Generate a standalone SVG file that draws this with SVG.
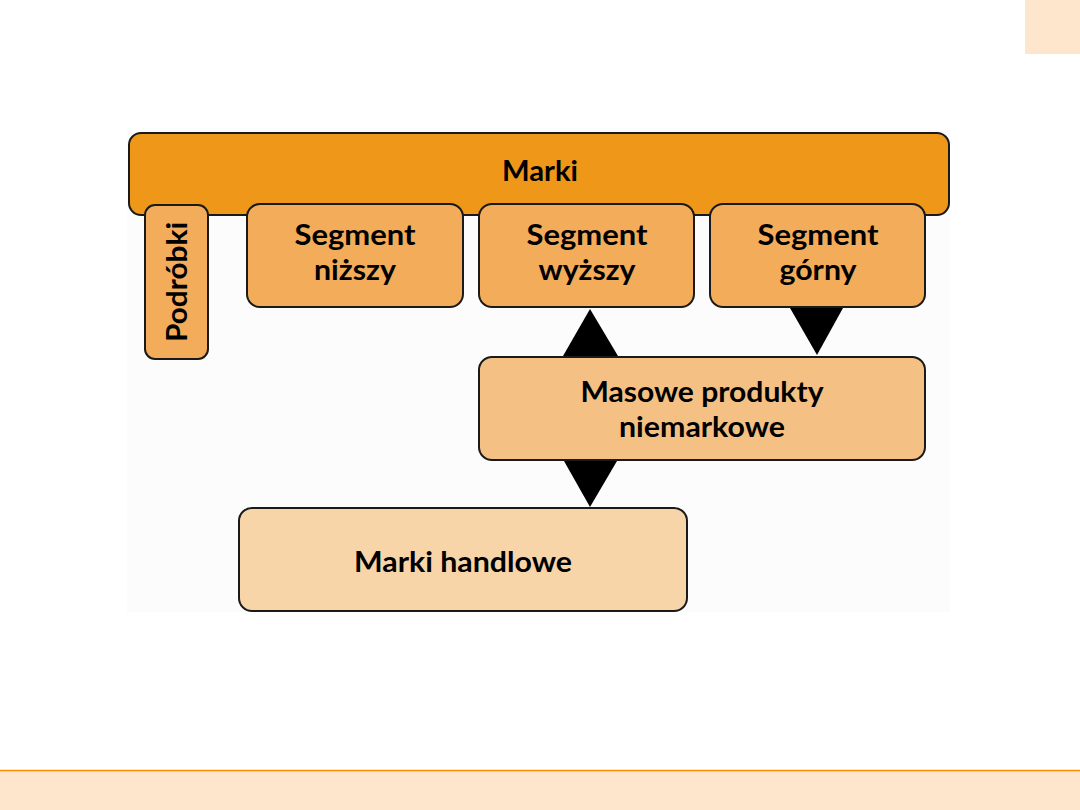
<svg xmlns="http://www.w3.org/2000/svg" width="1080" height="810" viewBox="0 0 1080 810">
<style>
.box{stroke:#1a1a1a;stroke-width:2}
.t{font-family:Lato,"Open Sans","Liberation Sans",sans-serif;font-weight:700;font-size:29px;fill:#000;text-anchor:middle}
.tri{fill:#000}
</style>
<rect width="1080" height="810" fill="#fff"/>
<rect x="1025" y="0" width="55" height="54" fill="#fee6cd"/>
<rect x="0" y="770" width="1080" height="40" fill="#fee6cd"/>
<line x1="0" y1="770.5" x2="1080" y2="770.5" stroke="#ff8c00" stroke-width="1.5"/>
<rect x="127" y="130" width="823" height="482" fill="#fcfcfc"/>
<g id="marki">
<rect class="box" x="129" y="133" width="820" height="82" rx="12" fill="#ef9718"/>
<text class="t" x="540" y="181" textLength="76" lengthAdjust="spacingAndGlyphs">Marki</text>
</g>
<g id="podrobki">
<rect class="box" x="145" y="205" width="63" height="154" rx="10" fill="#f2ac5a"/>
<text class="t" transform="translate(187,282) rotate(-90)" x="0" y="0" textLength="120" lengthAdjust="spacingAndGlyphs">Podróbki</text>
</g>
<g id="seg-nizszy">
<rect class="box" x="247" y="204" width="216" height="103" rx="13" fill="#f2ac5a"/>
<text class="t" x="355" y="245" textLength="121" lengthAdjust="spacingAndGlyphs">Segment</text>
<text class="t" x="355" y="280" textLength="82" lengthAdjust="spacingAndGlyphs">niższy</text>
</g>
<g id="seg-wyzszy">
<rect class="box" x="479" y="204" width="215" height="103" rx="13" fill="#f2ac5a"/>
<text class="t" x="587" y="245" textLength="121" lengthAdjust="spacingAndGlyphs">Segment</text>
<text class="t" x="587" y="280" textLength="97" lengthAdjust="spacingAndGlyphs">wyższy</text>
</g>
<g id="seg-gorny">
<rect class="box" x="710" y="204" width="215" height="103" rx="13" fill="#f2ac5a"/>
<text class="t" x="818" y="245" textLength="121" lengthAdjust="spacingAndGlyphs">Segment</text>
<text class="t" x="818" y="280" textLength="77" lengthAdjust="spacingAndGlyphs">górny</text>
</g>
<g id="masowe">
<rect class="box" x="479" y="357" width="446" height="103" rx="13" fill="#f5c083"/>
<text class="t" x="702" y="402" textLength="243" lengthAdjust="spacingAndGlyphs">Masowe produkty</text>
<text class="t" x="702" y="437" textLength="166" lengthAdjust="spacingAndGlyphs">niemarkowe</text>
</g>
<g id="marki-handlowe">
<rect class="box" x="239" y="508" width="448" height="103" rx="13" fill="#f8d5a8"/>
<text class="t" x="463" y="572" textLength="218" lengthAdjust="spacingAndGlyphs">Marki handlowe</text>
</g>
<g id="connectors">
<polygon class="tri" points="590,309 563,356 618,356"/>
<polygon class="tri" points="790,308 843,308 817,355"/>
<polygon class="tri" points="564,461 617,461 590,507"/>
</g>
</svg>
